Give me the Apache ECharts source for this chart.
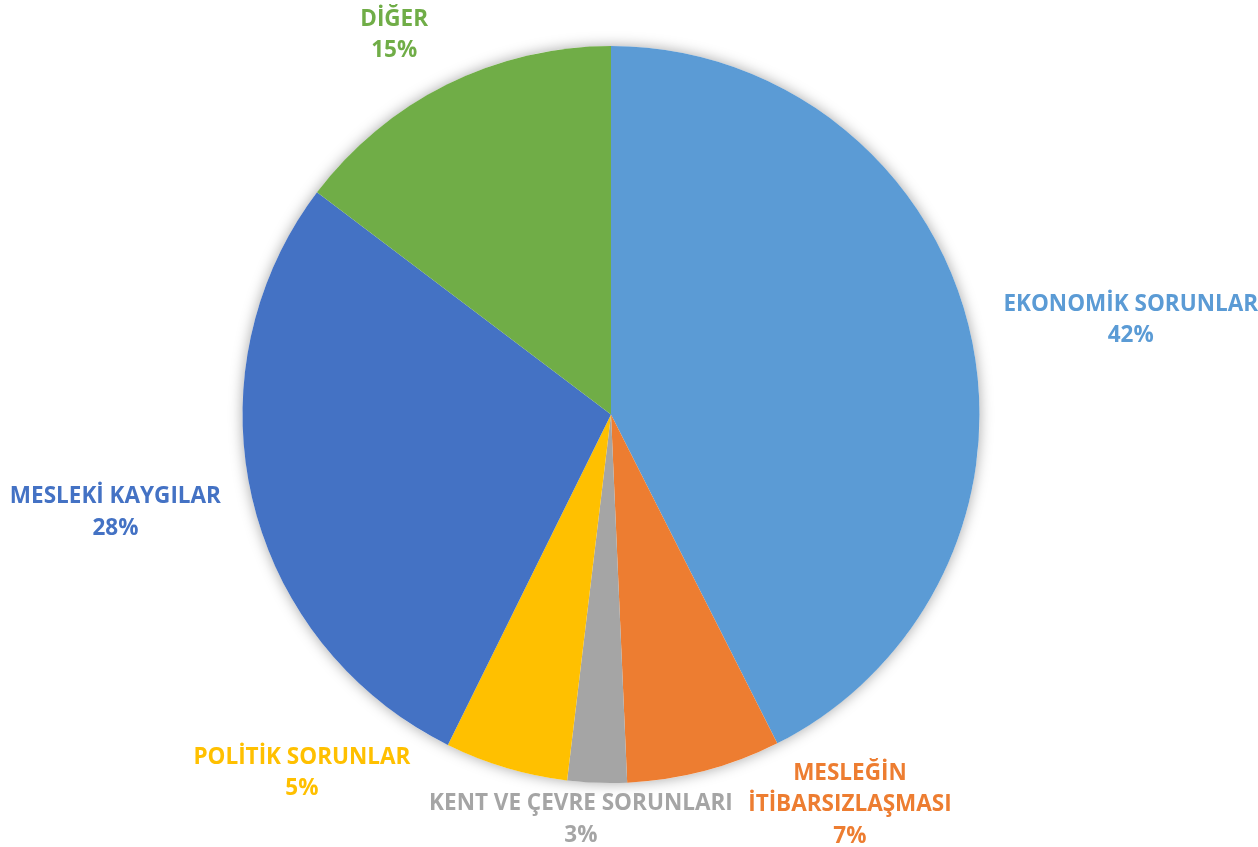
<!DOCTYPE html>
<html>
<head>
<meta charset="utf-8">
<script src="https://cdn.jsdelivr.net/npm/echarts@6/dist/echarts.min.js"></script>
<style>
  html, body { margin: 0; padding: 0; background: #fff; }
  #chart { width: 1258px; height: 847px; }
</style>
</head>
<body>
<div id="chart"></div>
<script>
// kategoriler (saat yönünde, tepeden başlayarak)
var categories = ['EKONOMİK SORUNLAR', 'MESLEĞİN\nİTİBARSIZLAŞMASI', 'KENT VE ÇEVRE SORUNLARI', 'POLİTİK SORUNLAR', 'MESLEKİ KAYGILAR', 'DİĞER'];
var values = [42.55, 6.75, 2.6, 5.4, 28.0, 14.7];
var colors = ['#5B9BD5', '#ED7D31', '#A5A5A5', '#FFC000', '#4472C4', '#70AD47'];

// etiket yerleşimi için görünmez etiket çizgisi uzunlukları
var lineLen = [39, 35, 37, 5.5, 57, 55.5];
var lineLen2 = [-9, 30, -142, 89, -29, -11];

var chart = echarts.init(document.getElementById('chart'));

var pieData = categories.map(function (name, i) {
  return {
    name: name,
    value: values[i],
    itemStyle: { color: colors[i] },
    label: { color: colors[i] },
    labelLine: { show: false, length: lineLen[i], length2: lineLen2[i] }
  };
});

chart.setOption({
  animation: false,
  backgroundColor: '#ffffff',
  series: [
    {
      // gölge için alt katman
      type: 'pie',
      silent: true,
      center: [611, 414.5],
      radius: 368.5,
      z: 1,
      label: { show: false },
      labelLine: { show: false },
      itemStyle: {
        color: '#ffffff',
        shadowBlur: 14,
        shadowColor: 'rgba(0,0,0,0.35)'
      },
      data: [{ value: 1 }]
    },
    {
      type: 'pie',
      center: [611, 414.5],
      radius: 368.5,
      startAngle: 90,
      clockwise: true,
      z: 2,
      avoidLabelOverlap: false,
      percentPrecision: 0,
      itemStyle: { borderWidth: 0 },
      emphasis: { disabled: true },
      label: {
        show: true,
        position: 'outside',
        formatter: '{b}\n{d}%',
        fontFamily: 'Open Sans',
        fontWeight: 'bold',
        fontSize: 22.5,
        lineHeight: 31.5
      },
      labelLayout: function (p) {
        return {
          x: p.labelRect.x + p.labelRect.width / 2,
          align: 'center'
        };
      },
      data: pieData
    }
  ]
});
</script>
</body>
</html>
